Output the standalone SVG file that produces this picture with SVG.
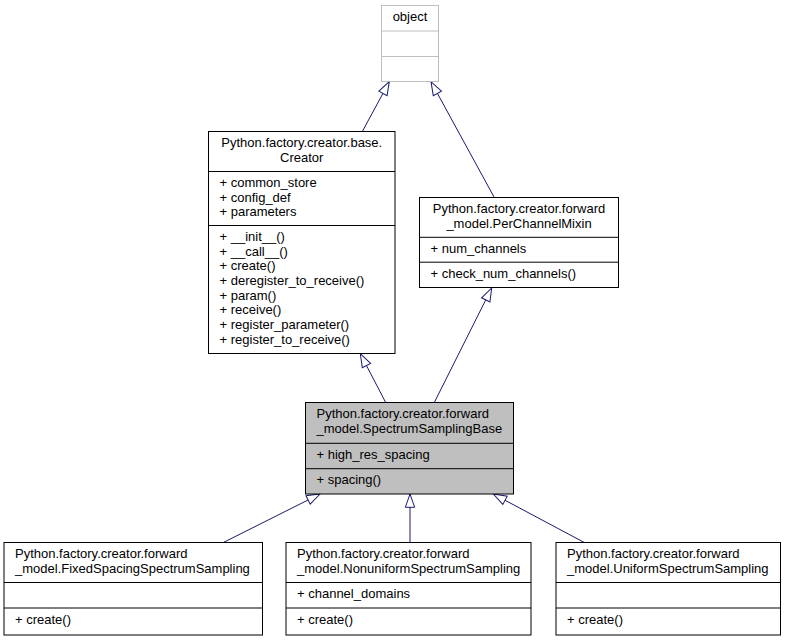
<svg xmlns="http://www.w3.org/2000/svg" width="786" height="640" viewBox="0 0 786 640">
<style>
  text { font-family: "Liberation Sans", Arial, sans-serif; font-size: 13px; fill: #000; }
  .box { fill: #fff; stroke: #000; stroke-width: 1; }
  .gray { fill: #fff; stroke: #bfbfbf; stroke-width: 1; }
  .cur { fill: #bfbfbf; stroke: #000; stroke-width: 1; }
  .div { stroke: #000; stroke-width: 1; }
  .gdiv { stroke: #bfbfbf; stroke-width: 1; }
  .mid { text-anchor: middle; }
  .edge { stroke: #191970; stroke-width: 1; fill: none; marker-end: url(#tri); }
</style>
<defs>
  <marker id="tri" markerUnits="userSpaceOnUse" markerWidth="16" markerHeight="12" viewBox="0 0 16 12" refX="14.3" refY="6" orient="auto">
    <path d="M1,1.33 L14.3,6 L1,10.67 Z" fill="#fff" stroke="#191970" stroke-width="1"/>
  </marker>
</defs>
<rect width="786" height="640" fill="#fff"/>

<g id="connectors">
  <line class="edge" x1="362.3" y1="131.5" x2="389.3" y2="81.7"/>
  <line class="edge" x1="494.3" y1="197.5" x2="431" y2="81.7"/>
  <line class="edge" x1="385.7" y1="402.5" x2="360.3" y2="353.7"/>
  <line class="edge" x1="434.3" y1="402.5" x2="491.7" y2="288"/>
  <line class="edge" x1="223.3" y1="542.5" x2="320" y2="494"/>
  <line class="edge" x1="410" y1="542.5" x2="410" y2="494"/>
  <line class="edge" x1="584.3" y1="542.5" x2="493.3" y2="494"/>
</g>

<g id="node-object">
  <rect class="gray" x="381.5" y="5.5" width="57" height="76"/>
  <line class="gdiv" x1="381.5" y1="31" x2="438.5" y2="31"/>
  <line class="gdiv" x1="381.5" y1="56.5" x2="438.5" y2="56.5"/>
  <text class="mid" x="410" y="21">object</text>
</g>

<g id="node-creator">
  <rect class="box" x="208.5" y="131.5" width="186.5" height="222"/>
  <line class="div" x1="208.5" y1="171.5" x2="395" y2="171.5"/>
  <line class="div" x1="208.5" y1="225.5" x2="395" y2="225.5"/>
  <text class="mid" x="301.75" y="147">Python.factory.creator.base.</text>
  <text class="mid" x="301.75" y="161.7">Creator</text>
  <text x="219.5" y="187">+ common_store</text>
  <text x="219.5" y="201.7">+ config_def</text>
  <text x="219.5" y="216.3">+ parameters</text>
  <text x="219.5" y="241">+ __init__()</text>
  <text x="219.5" y="255.7">+ __call__()</text>
  <text x="219.5" y="270.3">+ create()</text>
  <text x="219.5" y="285">+ deregister_to_receive()</text>
  <text x="219.5" y="299.7">+ param()</text>
  <text x="219.5" y="314.3">+ receive()</text>
  <text x="219.5" y="329">+ register_parameter()</text>
  <text x="219.5" y="343.7">+ register_to_receive()</text>
</g>

<g id="node-perchannelmixin">
  <rect class="box" x="419.5" y="197.5" width="199" height="90"/>
  <line class="div" x1="419.5" y1="237.3" x2="618.5" y2="237.3"/>
  <line class="div" x1="419.5" y1="262.2" x2="618.5" y2="262.2"/>
  <text class="mid" x="519" y="213">Python.factory.creator.forward</text>
  <text class="mid" x="519" y="227.7">_model.PerChannelMixin</text>
  <text x="430.5" y="253">+ num_channels</text>
  <text x="430.5" y="278">+ check_num_channels()</text>
</g>

<g id="node-spectrumsamplingbase">
  <rect class="cur" x="305.5" y="402.5" width="208" height="91.5"/>
  <line class="div" x1="305.5" y1="443.3" x2="513.5" y2="443.3"/>
  <line class="div" x1="305.5" y1="468.7" x2="513.5" y2="468.7"/>
  <text x="316.5" y="418">Python.factory.creator.forward</text>
  <text x="316.5" y="432.7">_model.SpectrumSamplingBase</text>
  <text x="316.5" y="458.5">+ high_res_spacing</text>
  <text x="316.5" y="484">+ spacing()</text>
</g>

<g id="node-fixedspacing">
  <rect class="box" x="4" y="542.5" width="258.5" height="92.5"/>
  <line class="div" x1="4" y1="582.5" x2="262.5" y2="582.5"/>
  <line class="div" x1="4" y1="608" x2="262.5" y2="608"/>
  <text x="15" y="558">Python.factory.creator.forward</text>
  <text x="15" y="572.7">_model.FixedSpacingSpectrumSampling</text>
  <text x="15" y="623.5">+ create()</text>
</g>

<g id="node-nonuniform">
  <rect class="box" x="286" y="542.5" width="245" height="92.5"/>
  <line class="div" x1="286" y1="582.5" x2="531" y2="582.5"/>
  <line class="div" x1="286" y1="608" x2="531" y2="608"/>
  <text x="297" y="558">Python.factory.creator.forward</text>
  <text x="297" y="572.7">_model.NonuniformSpectrumSampling</text>
  <text x="297" y="598">+ channel_domains</text>
  <text x="297" y="623.5">+ create()</text>
</g>

<g id="node-uniform">
  <rect class="box" x="556" y="542.5" width="224.5" height="92.5"/>
  <line class="div" x1="556" y1="582.5" x2="780.5" y2="582.5"/>
  <line class="div" x1="556" y1="608" x2="780.5" y2="608"/>
  <text x="567" y="558">Python.factory.creator.forward</text>
  <text x="567" y="572.7">_model.UniformSpectrumSampling</text>
  <text x="567" y="623.5">+ create()</text>
</g>
</svg>
